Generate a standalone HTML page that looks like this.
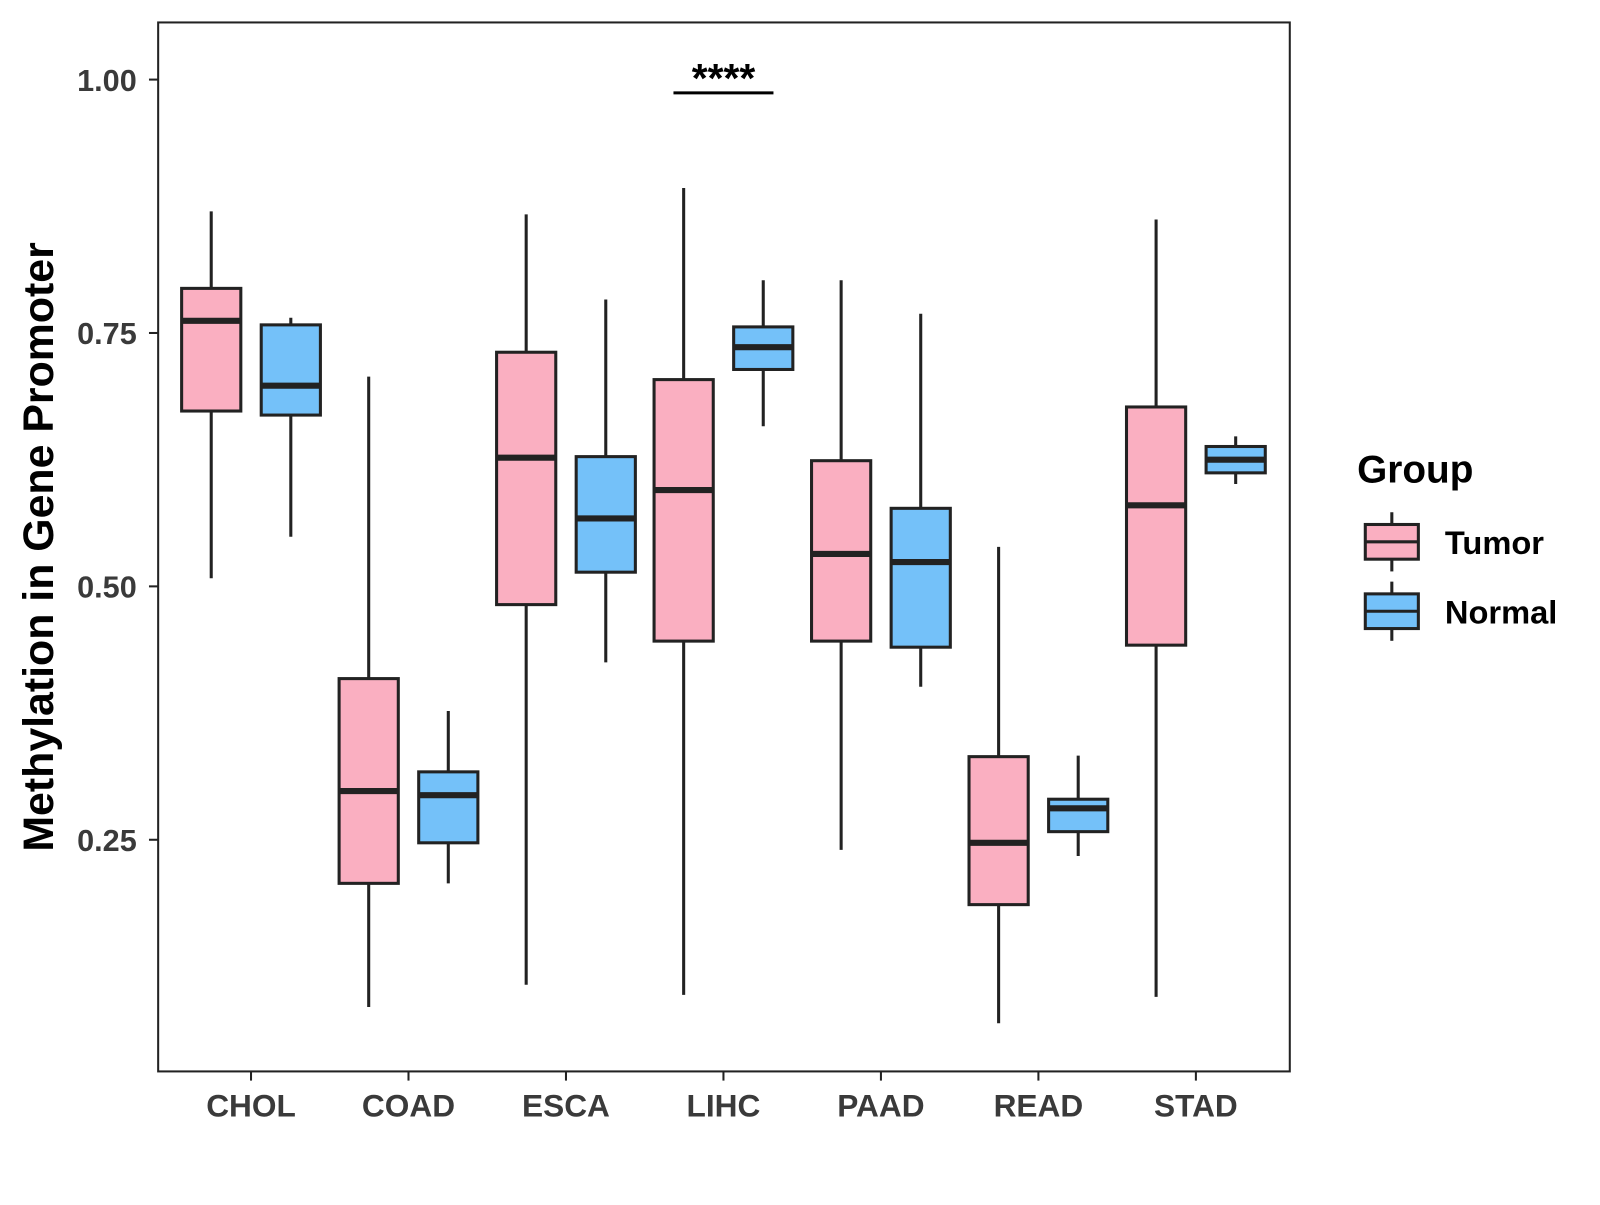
<!DOCTYPE html>
<html><head><meta charset="utf-8"><style>
body{margin:0;background:#fff;}
svg text{font-family:"Liberation Sans",Arial,sans-serif;font-weight:bold;}
</style></head><body>
<svg id="chart" width="1600" height="1200" xmlns="http://www.w3.org/2000/svg">
<g transform="scale(1.0204)">
<rect x="155" y="22" width="1109" height="1028" fill="#fff" stroke="#222" stroke-width="2"/>
<g id="marks"></g>
<g id="axes"></g>
<text x="52" y="536" transform="rotate(-90 52 536)" text-anchor="middle" font-size="42" fill="#000">Methylation in Gene Promoter</text>
<g>
<line x1="660" y1="91" x2="758" y2="91" stroke="#000" stroke-width="3"/>
<text x="709" y="90" text-anchor="middle" font-size="40" fill="#000">****</text>
</g>
<g>
<text x="1330" y="473" font-size="38" fill="#000">Group</text>
<g>
<line x1="1364" y1="502" x2="1364" y2="560" stroke="#222" stroke-width="3"/>
<rect x="1338" y="514" width="52" height="34" fill="#FAAFC1" stroke="#222" stroke-width="3"/>
<line x1="1338" y1="531" x2="1390" y2="531" stroke="#222" stroke-width="3"/>
<text x="1416" y="543" font-size="32" fill="#000">Tumor</text></g>
<g>
<line x1="1364" y1="570" x2="1364" y2="628" stroke="#222" stroke-width="3"/>
<rect x="1338" y="582" width="52" height="34" fill="#74C1F9" stroke="#222" stroke-width="3"/>
<line x1="1338" y1="599" x2="1390" y2="599" stroke="#222" stroke-width="3"/>
<text x="1416" y="611" font-size="32" fill="#000">Normal</text></g>
</g>
</g>
</svg>
<script>
const categories=["CHOL","COAD","ESCA","LIHC","PAAD","READ","STAD"];
// [low, q1, median, q3, high]
const tumorStats=[[0.508,0.673,0.762,0.794,0.870],[0.085,0.207,0.298,0.409,0.707],[0.107,0.482,0.627,0.731,0.867],[0.097,0.446,0.595,0.704,0.893],[0.240,0.446,0.532,0.624,0.802],[0.069,0.186,0.247,0.332,0.539],[0.095,0.442,0.580,0.677,0.862]];
const normalStats=[[0.549,0.669,0.698,0.758,0.765],[0.207,0.247,0.294,0.317,0.377],[0.425,0.514,0.567,0.628,0.783],[0.658,0.714,0.736,0.756,0.802],[0.401,0.440,0.524,0.577,0.769],[0.234,0.258,0.281,0.290,0.333],[0.601,0.612,0.625,0.638,0.648]];
const yTicks=[0.25,0.50,0.75,1.00];
const yTickLabels=["0.25","0.50","0.75","1.00"];
const NS="http://www.w3.org/2000/svg";
function y(v){return 78+(1-v)*993.3;}
function xc(i){return 246+i*154.33;}
function mk(t,a,p){const e=document.createElementNS(NS,t);for(const k in a)e.setAttribute(k,a[k]);p.appendChild(e);return e;}
const marks=document.getElementById('marks'),axes=document.getElementById('axes');
function box(s,cx,fill,name){
 const g=mk('g',{},marks);
 
 
 mk('line',{x1:cx,x2:cx,y1:y(s[4]),y2:y(s[0]),stroke:'#222','stroke-width':3},g);
 mk('rect',{x:cx-29,y:y(s[3]),width:58,height:y(s[1])-y(s[3]),fill:fill,stroke:'#222','stroke-width':3},g);
 mk('line',{x1:cx-29,x2:cx+29,y1:y(s[2]),y2:y(s[2]),stroke:'#222','stroke-width':6},g);
}
categories.forEach((c,i)=>{
 box(tumorStats[i],xc(i)-39,'#FAAFC1','box-tumor-'+c.toLowerCase());
 box(normalStats[i],xc(i)+39,'#74C1F9','box-normal-'+c.toLowerCase());
 mk('line',{x1:xc(i),x2:xc(i),y1:1050,y2:1059,stroke:'#222','stroke-width':2},axes);
 const t=mk('text',{x:xc(i),y:1094,'text-anchor':'middle','font-size':31,fill:'#3a3a3a'},axes);
 
 
 t.textContent=c;
});
yTicks.forEach((v,i)=>{
 mk('line',{x1:146,x2:155,y1:y(v),y2:y(v),stroke:'#222','stroke-width':2},axes);
 const t=mk('text',{x:134,y:y(v)+11,'text-anchor':'end','font-size':30,fill:'#3a3a3a'},axes);
 
 
 t.textContent=yTickLabels[i];
});
</script>
</body></html>
